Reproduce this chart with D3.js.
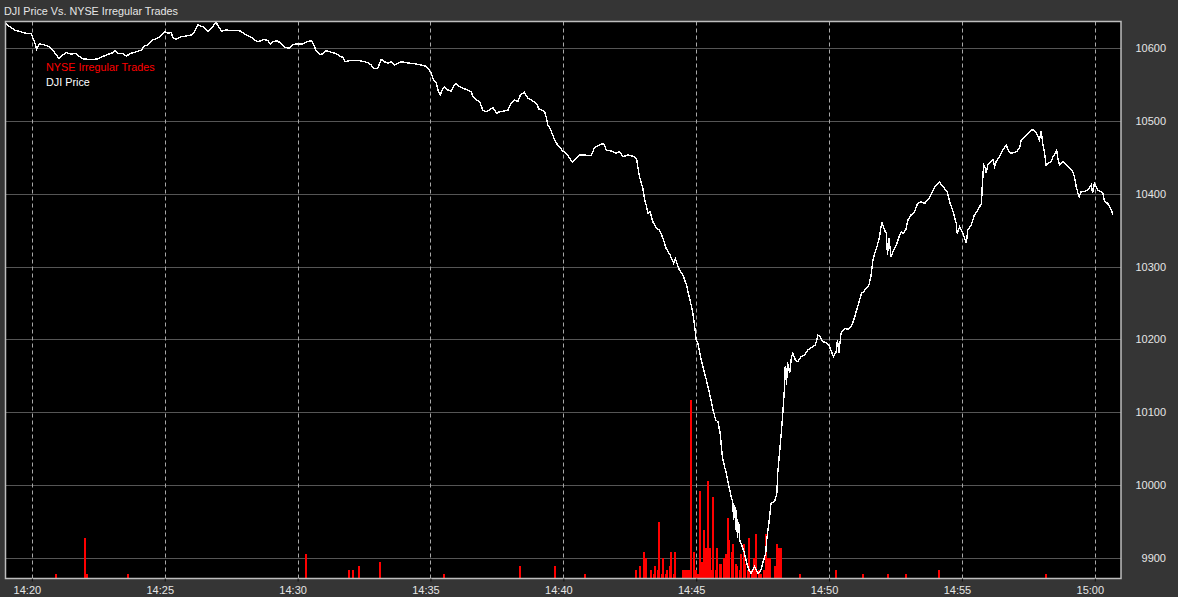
<!DOCTYPE html>
<html><head><meta charset="utf-8">
<script src="https://cdn.jsdelivr.net/npm/d3@7"></script>
<style>
html,body{margin:0;padding:0;background:#353535;}
svg{display:block;}
text{font-family:"Liberation Sans",Arial,sans-serif;}
</style>
</head><body>
<svg id="chart" width="1178" height="597"></svg>
<script>
// ---------- DATA ----------
const chartTitle = "DJI Price Vs. NYSE Irregular Trades";
const seriesNames = ["NYSE Irregular Trades", "DJI Price"];
// price series: time in minutes after 14:00, DJI price
const priceMinutes = [19.010,19.161,19.349,19.537,19.789,19.977,20.038,20.102,20.188,20.290,20.478,20.666,20.790,20.918,21.016,21.166,21.294,21.483,21.671,21.795,21.945,22.246,22.472,22.799,23.048,23.112,23.236,23.424,23.552,23.740,23.928,24.117,24.241,24.365,24.553,24.805,24.993,25.118,25.246,25.306,25.434,25.622,25.810,25.998,26.122,26.247,26.435,26.623,26.811,26.939,27.063,27.127,27.315,27.564,27.815,27.940,28.068,28.256,28.380,28.504,28.632,28.756,28.881,28.971,29.069,29.219,29.347,29.509,29.697,29.821,29.923,30.198,30.325,30.513,30.600,30.675,30.826,30.950,31.052,31.202,31.326,31.477,31.579,31.703,31.804,31.955,32.331,32.519,32.643,32.771,32.858,33.020,33.084,33.148,33.272,33.396,33.524,33.648,33.772,33.900,34.088,34.277,34.465,34.653,34.815,34.901,35.029,35.090,35.218,35.277,35.368,35.443,35.530,35.654,35.782,35.906,35.970,36.094,36.218,36.346,36.534,36.594,36.722,36.846,36.971,37.099,37.223,37.347,37.475,37.599,37.787,37.912,38.040,38.164,38.288,38.378,38.540,38.664,38.792,38.980,39.078,39.293,39.356,39.417,39.507,39.605,39.707,39.831,39.981,40.109,40.207,40.335,40.485,40.609,40.798,41.050,41.174,41.362,41.513,41.614,41.802,41.990,42.115,42.239,42.427,42.679,42.765,42.803,42.867,42.931,42.991,43.055,43.119,43.180,43.270,43.368,43.496,43.620,43.745,43.872,44.023,44.147,44.222,44.373,44.497,44.625,44.749,44.873,44.937,45.001,45.061,45.125,45.249,45.377,45.501,45.625,45.727,45.813,45.903,45.979,46.065,46.129,46.227,46.317,46.378,46.404,46.442,46.479,46.517,46.555,46.592,46.630,46.731,46.818,46.905,46.980,47.070,47.195,47.319,47.409,47.507,47.609,47.658,47.733,47.823,47.947,48.034,48.072,48.135,48.199,48.259,48.323,48.349,48.398,48.436,48.511,48.575,48.636,48.737,48.824,48.951,49.076,49.200,49.290,49.388,49.490,49.576,49.667,49.764,49.892,50.017,50.118,50.168,50.269,50.318,50.367,50.458,50.582,50.706,50.834,50.958,51.022,51.120,51.210,51.297,51.398,51.496,51.586,51.647,51.711,51.797,51.898,51.985,52.086,52.150,52.199,52.256,52.338,52.425,52.527,52.625,52.715,52.775,52.877,52.963,53.091,53.215,53.340,53.467,53.592,53.716,53.855,54.005,54.156,54.306,54.457,54.532,54.656,54.784,54.815,54.909,55.033,55.161,55.221,55.349,55.473,55.598,55.725,55.763,55.812,55.887,55.913,55.974,56.064,56.162,56.226,56.290,56.414,56.538,56.666,56.726,56.854,57.042,57.166,57.230,57.354,57.479,57.607,57.693,57.795,57.919,57.976,58.044,58.108,58.172,58.232,58.360,58.420,58.484,58.571,58.608,58.672,58.796,58.924,59.048,59.172,59.236,59.300,59.360,59.424,59.488,59.612,59.736,59.864,59.913,59.988,60.113,60.241,60.301,60.365,60.489,60.553,60.617,60.677];
const priceValues = [10634,10629.5,10625,10623,10620.5,10620.5,10613.6,10608.9,10598.5,10605.8,10604.4,10602.1,10597.5,10590.7,10586.1,10590.7,10593.8,10592.0,10593.0,10588.3,10585.2,10584.5,10585.2,10590.7,10593.8,10596.6,10593.0,10593.0,10589.3,10593.0,10595.2,10597.5,10603.0,10604.4,10611.3,10615.0,10622.7,10620.5,10621.8,10615.0,10612.2,10615.8,10616.8,10618.1,10622.7,10631.9,10629.5,10622.7,10630.5,10635.3,10627.3,10623.6,10625.0,10624.0,10624.0,10621.3,10618.1,10615.0,10611.3,10608.9,10610.3,10612.2,10610.3,10605.8,10608.9,10610.3,10607.5,10601.2,10599.9,10604.4,10605.8,10605.8,10608.9,10610.3,10605.8,10597.5,10591.6,10592.0,10596.6,10595.2,10593.8,10592.0,10589.3,10587.5,10581.4,10582.8,10582.8,10581.4,10580.1,10576.9,10572.4,10572.4,10579.2,10584.7,10581.4,10579.2,10581.4,10576.9,10579.2,10581.4,10580.1,10579.2,10578.3,10576.9,10575.5,10572.4,10565.9,10558.6,10551.8,10542.6,10535.7,10543.5,10546.3,10542.6,10541.2,10549.4,10551.8,10547.1,10544.9,10543.5,10540.2,10533.4,10528.8,10526.5,10515.1,10512.8,10515.1,10518.3,10510.6,10512.8,10513.7,10515.1,10524.3,10528.8,10526.5,10535.7,10539.4,10531.2,10528.8,10524.3,10516.5,10512.8,10505.9,10494.5,10490.0,10480.8,10471.6,10464.7,10458.8,10455.6,10451.0,10443.3,10448.8,10453.3,10453.3,10452.3,10463.3,10467.0,10469.4,10460.2,10458.8,10455.6,10457.8,10451.0,10453.3,10451.0,10446.4,10437.2,10423.5,10414.4,10409.7,10393.8,10384.6,10373.2,10375.4,10361.7,10352.6,10350.3,10338.9,10325.1,10315.9,10304.5,10310.4,10295.3,10288.5,10274.7,10256.4,10238.0,10219.8,10199.2,10194.6,10180.9,10162.5,10144.2,10125.9,10103.0,10089.3,10086.9,10071.0,10038.9,10025.1,10016.0,9997.7,9984.0,9974.9,9951.9,9972.5,9938.2,9965.7,9927.2,9949.2,9924.5,9915.3,9906.2,9892.5,9883.3,9878.7,9887.8,9878.7,9880.9,9892.5,9906.2,9924.5,9947.4,9974.9,9977.1,9988.6,10016.0,10043.5,10071.0,10103.0,10130.5,10163.5,10137.4,10168.9,10153.4,10176.2,10180.9,10171.7,10169.4,10176.2,10178.6,10185.4,10187.8,10190.0,10192.3,10206.0,10203.7,10196.8,10195.5,10190.0,10180.9,10176.2,10183.1,10199.2,10181.3,10208.4,10215.2,10213.9,10217.4,10229.0,10238.0,10249.6,10263.3,10265.5,10270.2,10274.7,10288.5,10309.1,10318.3,10327.3,10341.1,10361.7,10350.3,10345.7,10316.0,10339.3,10313.6,10322.8,10329.7,10341.1,10348.0,10345.7,10350.3,10364.0,10370.9,10375.4,10386.9,10389.1,10386.9,10391.5,10399.7,10410.7,10416.2,10409.3,10402.5,10389.1,10377.7,10359.5,10345.7,10354.8,10345.7,10332.0,10350.3,10357.1,10370.9,10377.7,10386.9,10412.1,10439.6,10435.0,10428.2,10439.6,10444.1,10446.4,10437.2,10444.1,10450.9,10460.2,10467.0,10460.2,10455.6,10457.8,10462.5,10473.9,10478.4,10483.1,10487.6,10487.6,10483.1,10473.9,10486.3,10467.0,10457.8,10439.6,10441.9,10444.1,10450.9,10453.3,10460.2,10450.9,10439.6,10444.1,10439.6,10435.0,10430.4,10423.5,10409.7,10400.7,10396.0,10402.9,10402.9,10405.2,10412.1,10401.1,10414.4,10405.2,10402.9,10400.7,10389.1,10386.9,10382.3,10377.7,10371.8];
// irregular trades: time in minutes after 14:00, count
const tradeMinutes = [20.903,22.009,22.077,23.639,30.337,31.948,32.064,32.294,33.084,35.518,38.386,39.695,40.836,
  42.754,42.905,43.010,43.093,43.319,43.394,43.470,43.545,43.620,43.695,43.771,43.846,43.921,43.996,44.072,44.147,44.222,
  44.497,44.572,44.647,44.722,44.824,44.918,44.993,45.049,45.125,45.200,45.275,45.350,45.445,45.520,45.595,45.652,45.727,
  45.802,45.878,45.953,46.047,46.122,46.178,46.254,46.329,46.404,46.479,46.555,46.630,46.705,46.780,46.856,46.931,47.006,
  47.082,47.176,47.270,47.364,47.439,47.533,47.628,47.703,47.778,47.947,48.034,48.117,48.185,
  48.917,50.262,51.288,52.237,52.907,54.156,58.144];
const tradeCounts = [1,10,1,1,6,2,2,3,4,1,3,3,1,
  2,3,6.5,5,2,1,3,2,14,1,5,1,2,3,6.5,1,6.5,
  2,2,2,2,44,6.5,2,1,21.5,4,12,7.5,24,7.5,2,20,2,
  7.5,3.5,3.5,5,6,15,9.5,6.5,8.5,3.5,3,2,6,8.5,3.5,2,10,
  2,5,11,2,1,2,11,5,5,3,8.5,7.5,7.5,
  1,2,1,1,1,2,1];
const yTickValues = [9900,10000,10100,10200,10300,10400,10500,10600];
const xTickLabels = ["14:20","14:25","14:30","14:35","14:40","14:45","14:50","14:55","15:00"];

// ---------- LAYOUT ----------
const W = 1178, H = 597;
const plot = {left: 5.5, right: 1121, top: 21.5, bottom: 578.5};
const toDate = m => new Date(2010, 4, 6, 14, 0, Math.round(m * 60));
const x = d3.scaleTime().domain([toDate(19), toDate(61)]).range([plot.left - 0.2, plot.right + 0.4]);
const y = d3.scaleLinear().domain([9871.8, 10636.7]).range([578.3, 21.5]);
const yBar = d3.scaleLinear().domain([0, 137.5]).range([578.3, 21.5]);

const svg = d3.select("#chart");
svg.append("rect").attr("width", W).attr("height", H).attr("fill", "#353535");

svg.append("text").attr("x", 4).attr("y", 15).attr("fill", "#e6e6e6")
  .style("font-size", "10.8px").text(chartTitle);

svg.append("rect").attr("x", plot.left).attr("y", plot.top)
  .attr("width", plot.right - plot.left).attr("height", plot.bottom - plot.top)
  .attr("fill", "#000");

const parseHM = s => { const [h, mm] = s.split(":").map(Number); return toDate((h - 14) * 60 + mm); };
const xTicks = xTickLabels.map(parseHM);

// horizontal grid
svg.append("g").selectAll("line").data(yTickValues).join("line")
  .attr("x1", plot.left).attr("x2", plot.right)
  .attr("y1", d => Math.round(y(d)) + 0.5).attr("y2", d => Math.round(y(d)) + 0.5)
  .attr("stroke", "#555").attr("stroke-width", 1);

// vertical dashed grid
svg.append("g").selectAll("line").data(xTicks).join("line")
  .attr("x1", d => Math.round(x(d)) + 0.5).attr("x2", d => Math.round(x(d)) + 0.5)
  .attr("y1", plot.top).attr("y2", plot.bottom)
  .attr("stroke", "#a8a8a8").attr("stroke-width", 1).attr("stroke-dasharray", "4,3");

// bars
const trades = d3.zip(tradeMinutes, tradeCounts);
svg.append("g").attr("shape-rendering", "crispEdges").selectAll("rect").data(trades).join("rect")
  .attr("x", d => Math.round(x(toDate(d[0]))) - 1)
  .attr("width", 2)
  .attr("y", d => yBar(d[1]))
  .attr("height", d => yBar(0) - yBar(d[1]))
  .attr("fill", "#ff0000");

// price line
const prices = d3.zip(priceMinutes, priceValues);
const line = d3.line().x(d => x(toDate(d[0]))).y(d => y(d[1]));
svg.append("path").datum(prices).attr("d", line)
  .attr("fill", "none").attr("stroke", "#fff").attr("stroke-width", 1.4)
  .attr("shape-rendering", "crispEdges")
  .attr("stroke-linejoin", "miter");

// border
svg.append("rect").attr("x", plot.left).attr("y", plot.top)
  .attr("width", plot.right - plot.left).attr("height", plot.bottom - plot.top)
  .attr("fill", "none").attr("stroke", "#bdbdbd").attr("stroke-width", 1.5);

// legend
svg.append("text").attr("x", 46).attr("y", 71).attr("fill", "#ff0000")
  .style("font-size", "10.8px").text(seriesNames[0]);
svg.append("text").attr("x", 46).attr("y", 86).attr("fill", "#ffffff")
  .style("font-size", "10.8px").text(seriesNames[1]);

// y axis labels (right)
const yAxis = d3.axisRight(y).tickValues(yTickValues).tickSize(0).tickPadding(0).tickFormat(d3.format("d"));
const gy = svg.append("g").attr("transform", `translate(1166,0)`).call(yAxis);
gy.select(".domain").remove();
gy.selectAll("text").attr("text-anchor", "end").attr("fill", "#e6e6e6")
  .style("font-size", "11px").style("font-family", "'Liberation Sans',Arial,sans-serif");

// x axis labels
const xAxis = d3.axisBottom(x).tickValues(xTicks).tickSize(3).tickPadding(5).tickFormat((d, i) => xTickLabels[i]);
const gx = svg.append("g").attr("transform", `translate(0,${plot.bottom})`).call(xAxis);
gx.select(".domain").remove();
gx.selectAll("line").attr("stroke", "#111");
gx.selectAll("text").attr("fill", "#e6e6e6").attr("dx", -5)
  .style("font-size", "11px").style("font-family", "'Liberation Sans',Arial,sans-serif");
</script>
</body></html>
